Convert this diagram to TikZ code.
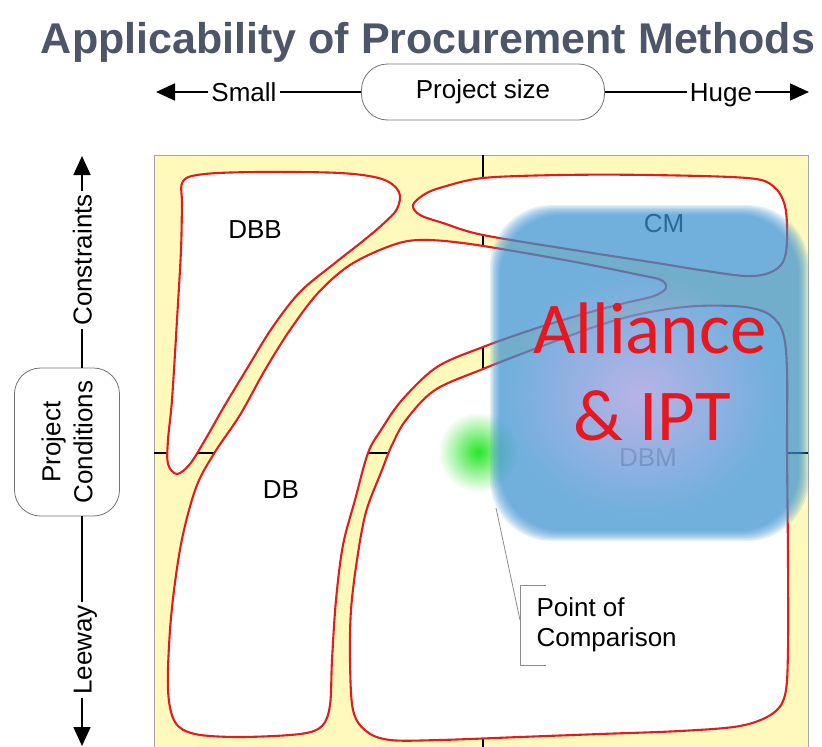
\documentclass[tikz,border=0pt]{standalone}
\usepackage{fontspec}
\setmainfont{Liberation Sans}
\newfontfamily\alliancefont{Carlito}
\usetikzlibrary{arrows.meta,fadings}

\definecolor{pad}{RGB}{255,250,188}
\definecolor{edge}{RGB}{225,28,28}
\definecolor{titlegray}{RGB}{76,86,104}
\definecolor{blobblue}{RGB}{62,148,212}
\definecolor{glow}{RGB}{215,180,235}
\definecolor{alliancered}{RGB}{232,22,30}
\definecolor{blobgreen}{RGB}{40,230,40}

\tikzfading[name=softdot, inner color=transparent!0, outer color=transparent!100]

\tikzset{
  region/.style={draw=edge, line width=2.1pt, fill=white},
  axislabel/.style={font=\fontsize{26}{30}\selectfont, inner sep=3pt, text height=19pt, text depth=0pt},
  axisbox/.style={draw=black!55, line width=0.8pt, rounded corners=26pt, fill=white,
    font=\fontsize{26}{32}\selectfont},
  axisline/.style={line width=1.8pt},
  axisarrow/.style={line width=1.8pt, -{Triangle[length=19pt,width=17pt]}},
  tag/.style={font=\fontsize{26}{30}\selectfont},
  pointer/.style={draw=black!45, line width=0.8pt},
}

\begin{document}
\begin{tikzpicture}[x=1pt,y=-1pt]
\useasboundingbox (0,0) rectangle (822,747);

%% title
\node[font=\bfseries\fontsize{43}{50}\selectfont, text=titlegray, anchor=base] (title) at (428,53)
  {Applicability of Procurement Methods};

%% project size axis
\coordinate (lefttip) at (156,92);
\node[axislabel] (small) at (244,92) {Small};
\node[axisbox, minimum width=243pt, minimum height=56pt] (size) at (483,92) {Project size};
\node[axislabel] (huge) at (721,92) {Huge};
\coordinate (righttip) at (809,92);
\draw[axisarrow] (small) -- (lefttip);
\draw[axisline] (small) -- (size);
\draw[axisline] (size) -- (huge);
\draw[axisarrow] (huge) -- (righttip);

%% project conditions axis
\coordinate (uptip) at (82,156);
\node[axislabel, rotate=90] (constr) at (82,260) {Constraints};
\node[axisbox, rotate=90, align=center, minimum width=148pt, minimum height=105pt] (cond) at (67,442)
  {Project\\Conditions};
\node[axislabel, rotate=90] (leeway) at (82,650) {Leeway};
\coordinate (downtip) at (82,746);
\draw[axisarrow] (constr) -- (uptip);
\draw[axisline] (constr) -- (constr |- cond.east);
\draw[axisline] (leeway |- cond.west) -- (leeway);
\draw[axisarrow] (leeway) -- (downtip);

%% field
\filldraw[fill=pad, draw=black!35, line width=0.8pt] (154,155) rectangle (808,750);
\draw[line width=1.4pt] (483,155) -- (483,747);
\draw[line width=1.4pt] (154,453) -- (808,453);

%% regions
\draw[region] plot[smooth cycle, tension=0.55] coordinates {
  (183,181) (205,174) (260,172) (340,173) (382,179) (399,192) (397,209) (383,224)
  (363,241) (335,263) (300,292) (272,328) (248,367) (225,405) (205,440) (190,464)
  (177,474) (168,464) (168,440) (172,400) (177,320) (181,250) (182,205)};
\draw[region] plot[smooth cycle, tension=0.55] coordinates {
  (413,205) (425,194) (443,187) (483,178) (560,175) (650,175) (747,178) (773,186)
  (785,206) (787,240) (783,262) (769,273) (745,276) (700,270) (663,264) (580,251)
  (483,235) (443,223) (420,215)};
\draw[region] plot[smooth cycle, tension=0.55] coordinates {
  (390,246) (420,240) (470,244) (570,261) (640,275) (661,280) (666,288) (654,296)
  (625,303) (587,313) (537,328) (483,347) (437,367) (402,400) (381,430) (368,453)
  (355,500) (343,545) (336,600) (332,660) (330,705) (322,726) (300,734) (240,737)
  (195,734) (175,722) (168,690) (170,630) (176,575) (184,530) (197,485) (215,452)
  (240,415) (265,370) (290,330) (318,293) (350,265)};
\draw[region] plot[smooth cycle, tension=0.55] coordinates {
  (483,369) (537,348) (603,324) (650,312) (697,306) (745,307) (770,315) (783,333)
  (787,370) (787,450) (788,560) (788,650) (785,695) (772,714) (740,726) (680,731)
  (600,734) (520,737) (440,740) (390,740) (366,731) (353,710) (350,660) (351,610)
  (357,560) (366,512) (382,470) (392,445) (406,420) (435,390)};

%% region names
\node[tag] (dbb) at (255,230) {DBB};
\node[tag] (db) at (281,490) {DB};
\node[tag] (cm) at (664,224) {CM};
\node[tag, text=black!55] (dbm) at (648,458) {DBM};

%% blobs
\fill[blobgreen, path fading=softdot] (478,452) circle (40);
\foreach \i in {0,...,7}
  \fill[blobblue, opacity=0.15, rounded corners=62pt]
    ({490+1.4*\i},{205+1.4*\i}) rectangle ({809-1.4*\i},{541-1.4*\i});
\fill[glow, path fading=softdot, opacity=0.7] (640,395) ellipse (135 and 120);
\node[font=\alliancefont\fontsize{73}{87}\selectfont, text=alliancered, anchor=base] (alliance) at (650,353) {Alliance};
\node[font=\alliancefont\fontsize{73}{87}\selectfont, text=alliancered, anchor=base] (ipt) at (652,440) {\& IPT};

%% point of comparison
\coordinate (cmp) at (496,508);
\coordinate (brtop) at (520,585);
\coordinate (brmid) at (520,620);
\coordinate (brbot) at (520,665);
\node[tag, align=left, anchor=west] (poc) at (533,625) {Point of\\Comparison};
\draw[pointer] (cmp) -- (brmid);
\draw[pointer] ([xshift=26pt]brtop) -- (brtop) -- (brbot) -- ([xshift=26pt]brbot);

\end{tikzpicture}
\end{document}
